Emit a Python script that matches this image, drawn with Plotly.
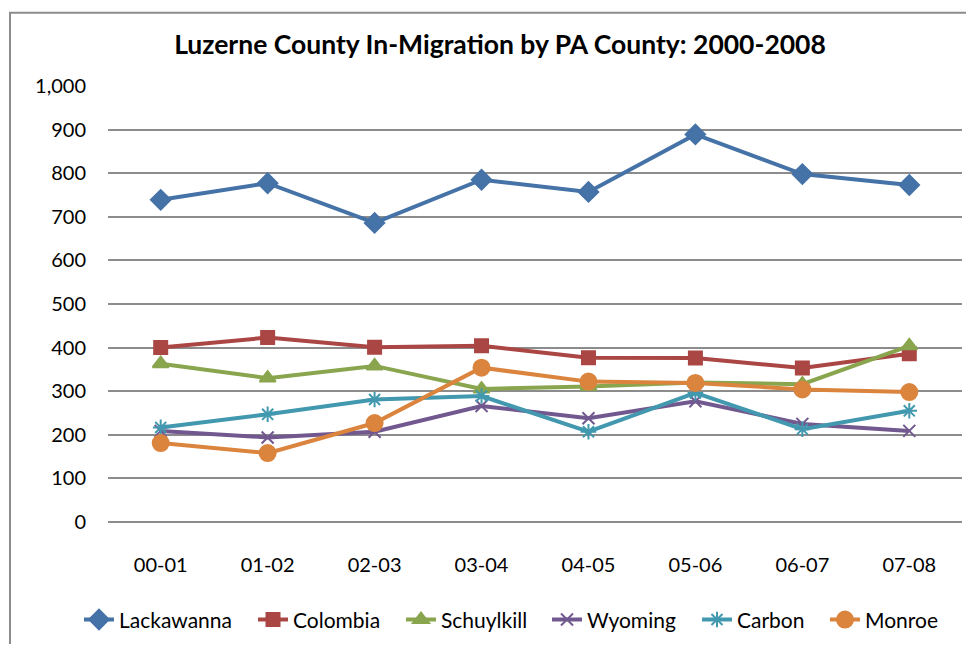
import plotly.graph_objects as go

periods = ["00-01", "01-02", "02-03", "03-04", "04-05", "05-06", "06-07", "07-08"]
lackawanna = [739, 777, 686, 785, 757, 889, 798, 773]
colombia = [400, 423, 401, 404, 377, 376, 353, 386]
schuylkill = [363, 330, 358, 305, 311, 320, 316, 404]
wyoming = [209, 194, 207, 266, 238, 277, 225, 209]
carbon = [217, 247, 281, 289, 207, 296, 213, 255]
monroe = [181, 158, 227, 354, 322, 319, 304, 298]

series = [
    ("Lackawanna", lackawanna, "#4572A7", "diamond", 15),
    ("Colombia", colombia, "#AA4643", "square", 13),
    ("Schuylkill", schuylkill, "#89A54E", "triangle-up", 14),
    ("Wyoming", wyoming, "#71588F", "x-thin", 12),
    ("Carbon", carbon, "#4198AF", "asterisk", 13),
    ("Monroe", monroe, "#DB843D", "circle", 16),
]
# pixel x where each legend label's text begins
legend_text_x = [120, 294, 442, 588, 738, 866]

W, H = 958, 636
L, R, T, B = 100, 4, 78, 117
pw, ph = W - L - R, H - T - B
OFF = 8  # page body margin

fig = go.Figure()
legend_layouts = {}
for i, (name, vals, color, sym, size) in enumerate(series):
    key = f"legend{i + 2}"
    fig.add_trace(go.Scatter(
        x=periods, y=vals, name=name, mode="lines+markers",
        line=dict(color=color, width=4),
        marker=dict(symbol=sym, size=size, color=color,
                    line=dict(color=color, width=2)),
        legend=key,
    ))
    lx = legend_text_x[i] - 41 - OFF - L
    legend_layouts[key] = dict(orientation="h", x=lx / pw, xanchor="left",
                               y=(527 - 626) / ph, yanchor="middle",
                               font=dict(size=21), bgcolor="rgba(0,0,0,0)")

fig.update_layout(
    width=W, height=H,
    margin=dict(l=L, r=R, t=T, b=B),
    paper_bgcolor="white", plot_bgcolor="white",
    showlegend=True,
    font=dict(family="Lato, sans-serif", size=20, color="#000000"),
    title=dict(text="<b>Luzerne County In-Migration by PA County: 2000-2008</b>",
               x=(500 - OFF) / W, xanchor="center", xref="container",
               y=1 - (45 - OFF) / H, yanchor="middle",
               font=dict(family="Lato, sans-serif", size=26.5, color="#000000")),
    xaxis=dict(type="category", showgrid=False, showline=False, zeroline=False, ticks="",
               tickfont=dict(size=20), ticklabelstandoff=29),
    yaxis=dict(range=[0, 1000], dtick=100, tickformat=",", showgrid=True,
               gridcolor="#8C8C8C", gridwidth=2, zeroline=True, zerolinecolor="#8C8C8C",
               zerolinewidth=2, showline=False,
               ticks="", tickfont=dict(size=20), ticklabelstandoff=21),
    shapes=[dict(type="rect", xref="paper", yref="paper",
                 x0=(10 - 108) / pw, x1=(990 - 108) / pw,
                 y0=(527 - 670) / ph, y1=1 + (86 - 12) / ph,
                 line=dict(color="#8C8C8C", width=2), fillcolor="rgba(0,0,0,0)")],
    **legend_layouts,
)

fig.write_html("out.html")
